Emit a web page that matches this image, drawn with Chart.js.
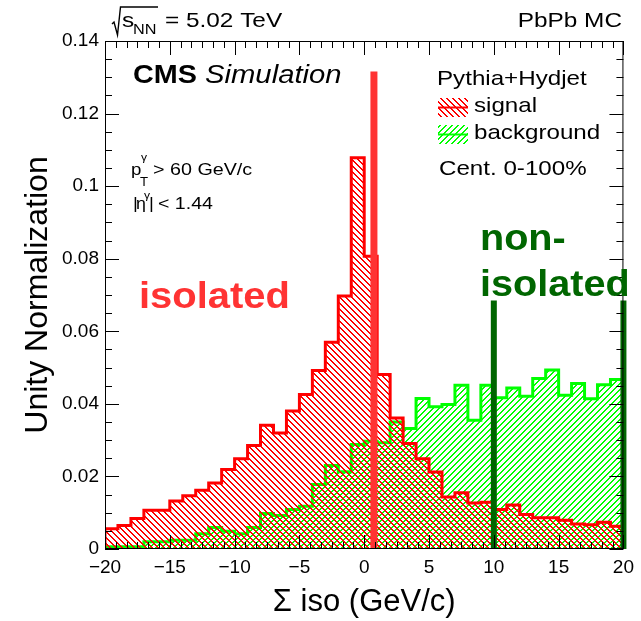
<!DOCTYPE html>
<html>
<head>
<meta charset="utf-8">
<script src="https://cdn.jsdelivr.net/npm/chart.js@4"></script>
<style>
  html, body { margin: 0; padding: 0; background: #fff; }
  #c { display: block; }
</style>
</head>
<body>
<canvas id="c" width="641" height="621"></canvas>
<script>
// bin edges of the iso histograms (GeV/c)
const edges = [-20,-19,-18,-17,-16,-15,-14,-13,-12,-11,-10,-9,-8,-7,-6,-5,-4,-3,-2,-1,
  0,1,2,3,4,5,6,7,8,9,10,11,12,13,14,15,16,17,18,19,20];
// signal (Pythia+Hydjet, isolated photons)
const signal = [0.0056,0.0065,0.0084,0.0107,0.0107,0.0132,0.0147,0.0162,0.0182,0.0219,
  0.0249,0.0285,0.0341,0.0320,0.0380,0.0426,0.0492,0.0570,0.0697,0.1078,
  0.0807,0.0481,0.0361,0.0291,0.0249,0.0212,0.0143,0.0155,0.0127,0.0129,
  0.0109,0.0121,0.0095,0.0086,0.0086,0.0079,0.0069,0.0067,0.0074,0.0063];
// background
const background = [0.0006,0.0006,0.0006,0.0020,0.0020,0.0024,0.0024,0.0042,0.0059,0.0049,
  0.0042,0.0059,0.0098,0.0092,0.0109,0.0118,0.0178,0.0230,0.0213,0.0288,
  0.0297,0.0293,0.0350,0.0332,0.0415,0.0392,0.0398,0.0451,0.0355,0.0451,
  0.0417,0.0444,0.0421,0.0470,0.0493,0.0424,0.0456,0.0414,0.0453,0.0467];
// cut lines
const isoCut = 0.75, isoCutTop = 0.1316;
const nonIsoCuts = [10, 20], nonIsoTop = 0.0685;
const yTicks = [0, 0.02, 0.04, 0.06, 0.08, 0.1, 0.12, 0.14];
const xTicks = [-20, -15, -10, -5, 0, 5, 10, 15, 20];

const FONT = '"Liberation Sans", Arial, sans-serif';
const canvas = document.getElementById('c');
const ctx = canvas.getContext('2d');

function hatch(color, dir, p) {
  const c = document.createElement('canvas');
  c.width = p; c.height = p;
  const g = c.getContext('2d');
  g.fillStyle = color;
  for (let i = 0; i < p; i++) {
    for (let j = 0; j < p; j++) {
      const k = dir > 0 ? (i + j) % p : (i - j + p) % p;
      if (k < 2) g.fillRect(i, j, 1, 1);
    }
  }
  return ctx.createPattern(c, 'repeat');
}
const redHatch = hatch('#ff0000', -1, 6);
const greenHatch = hatch('#00ff00', 1, 6);

function histPoints(vals) {
  const pts = [{x: edges[0], y: 0}];
  vals.forEach((v, i) => pts.push({x: edges[i], y: v}));
  pts.push({x: edges[vals.length], y: 0});
  return pts;
}

function txt(s, x, y, size, o) {
  o = o || {};
  ctx.save();
  ctx.font = (o.style || '') + ' ' + size + 'px ' + FONT;
  ctx.fillStyle = o.color || '#000';
  ctx.textBaseline = 'alphabetic';
  ctx.textAlign = o.align || 'left';
  ctx.translate(x, y);
  ctx.scale(o.sx || 1, 1);
  ctx.fillText(s, 0, 0);
  ctx.restore();
}

const decorations = {
  id: 'decorations',
  afterDraw(chart) {
    const a = chart.chartArea, xs = chart.scales.x, ys = chart.scales.y;
    ctx.save();
    ctx.strokeStyle = '#000';
    ctx.lineWidth = 1;
    ctx.strokeRect(a.left + 0.5, a.top + 0.5, a.right - a.left - 1, a.bottom - a.top - 1);
    ctx.beginPath();
    // y ticks (left and right, inward)
    for (let i = 0; i <= 28; i++) {
      const py = Math.round(ys.getPixelForValue(i * 0.005)) + 0.5;
      const len = i % 4 === 0 ? 14 : 7;
      ctx.moveTo(a.left, py); ctx.lineTo(a.left + len, py);
      ctx.moveTo(a.right, py); ctx.lineTo(a.right - len, py);
    }
    // x ticks (bottom and top, inward)
    for (let i = 0; i <= 48; i++) {
      const px = Math.round(xs.getPixelForValue(-20 + i * 5 / 6)) + 0.5;
      const len = i % 6 === 0 ? 14 : 7;
      ctx.moveTo(px, a.bottom); ctx.lineTo(px, a.bottom - len);
      ctx.moveTo(px, a.top); ctx.lineTo(px, a.top + len);
    }
    ctx.stroke();

    // sqrt(s_NN)
    ctx.lineWidth = 1.4;
    ctx.beginPath();
    ctx.moveTo(112, 24); ctx.lineTo(114, 22); ctx.lineTo(117.5, 35); ctx.lineTo(120.5, 7); ctx.lineTo(158, 7);
    ctx.stroke();
    ctx.restore();
    txt('s', 122, 27, 21, {sx: 1.16});
    txt('NN', 133, 34, 14, {sx: 1.16});
    txt('= 5.02 TeV', 165, 27, 21, {sx: 1.16});
    txt('PbPb MC', 622, 27, 21, {sx: 1.16, align: 'right'});

    txt('CMS', 133, 83, 25, {style: 'bold', sx: 1.15});
    txt('Simulation', 205, 83, 25, {style: 'italic', sx: 1.17});

    txt('p', 131, 175, 17, {sx: 1.1});
    txt('\u03b3', 141, 161, 11, {sx: 1.1});
    txt('T', 140, 186, 12, {sx: 1.1});
    txt('> 60 GeV/c', 153, 175, 17, {sx: 1.16});
    txt('|', 133, 209, 17, {sx: 1.1});
    txt('\u03b7', 136, 209, 17, {sx: 1.05});
    txt('\u03b3', 144, 199, 11, {sx: 1.1});
    txt('|', 149, 209, 17, {sx: 1.1});
    txt('< 1.44', 158, 209, 17, {sx: 1.15});

    // legend
    txt('Pythia+Hydjet', 437, 85, 21, {sx: 1.15});
    const sw = [[redHatch, '#ff0000', 98, 'signal'], [greenHatch, '#00ff00', 125, 'background']];
    sw.forEach(([pat, col, top, label]) => {
      ctx.save();
      ctx.fillStyle = pat;
      ctx.fillRect(438, top, 30, 19);
      ctx.strokeStyle = col;
      ctx.lineWidth = 2;
      ctx.beginPath(); ctx.moveTo(438, top + 9.5); ctx.lineTo(468, top + 9.5); ctx.stroke();
      ctx.restore();
      txt(label, 474, top + 14, 21, {sx: 1.15});
    });
    txt('Cent. 0-100%', 439, 175, 21, {sx: 1.15});

    txt('isolated', 139, 308, 37, {style: 'bold', sx: 1.08, color: '#ff3333'});
    txt('non-', 480, 250, 37, {style: 'bold', sx: 1.07, color: '#006600'});
    txt('isolated', 480, 296, 37, {style: 'bold', sx: 1.07, color: '#006600'});
  }
};

const lineSet = (x, top, color, w) => ({
  data: [{x: x, y: 0}, {x: x, y: top}],
  borderColor: color, borderWidth: w, pointRadius: 0, fill: false,
  borderCapStyle: 'butt', clip: false
});

new Chart(canvas, {
  type: 'line',
  data: {
    datasets: [
      lineSet(nonIsoCuts[0], nonIsoTop, '#006600', 6),
      lineSet(nonIsoCuts[1], nonIsoTop, '#006600', 6),
      lineSet(isoCut, isoCutTop, '#ff3333', 7),
      {
        data: histPoints(signal), stepped: 'before', borderColor: '#ff0000', borderWidth: 3,
        backgroundColor: redHatch, fill: 'origin', pointRadius: 0, borderJoinStyle: 'miter'
      },
      {
        data: histPoints(background), stepped: 'before', borderColor: '#00ff00', borderWidth: 3,
        backgroundColor: greenHatch, fill: 'origin', pointRadius: 0, borderJoinStyle: 'miter'
      }
    ]
  },
  options: {
    responsive: false,
    animation: false,
    events: [],
    layout: {padding: {top: 41, right: 14, left: 0, bottom: 0}},
    plugins: {legend: {display: false}, tooltip: {enabled: false}},
    scales: {
      x: {
        type: 'linear', min: -20, max: 20,
        grid: {display: false, drawTicks: false},
        border: {display: false},
        afterFit: s => { s.height = 72; },
        afterBuildTicks: s => { s.ticks = xTicks.map(v => ({value: v})); },
        ticks: {
          autoSkip: false, maxRotation: 0, padding: 7, color: '#000',
          font: {family: FONT, size: 19},
          callback: v => v < 0 ? '\u2212' + (-v) : '' + v
        },
        title: {display: true, text: '\u03a3 iso (GeV/c)', color: '#000',
          font: {family: FONT, size: 31}, padding: {top: 0, bottom: 0}}
      },
      y: {
        min: 0, max: 0.14,
        grid: {display: false, drawTicks: false},
        border: {display: false},
        afterFit: s => { s.width = 105; },
        afterBuildTicks: s => { s.ticks = yTicks.map(v => ({value: v})); },
        ticks: {
          padding: 6, color: '#000',
          font: {family: FONT, size: 19},
          callback: v => '' + (+v.toFixed(2))
        },
        title: {display: true, text: 'Unity Normalization', color: '#000',
          font: {family: FONT, size: 32}, padding: {top: 19, bottom: 0}}
      }
    }
  },
  plugins: [decorations]
});
</script>
</body>
</html>
